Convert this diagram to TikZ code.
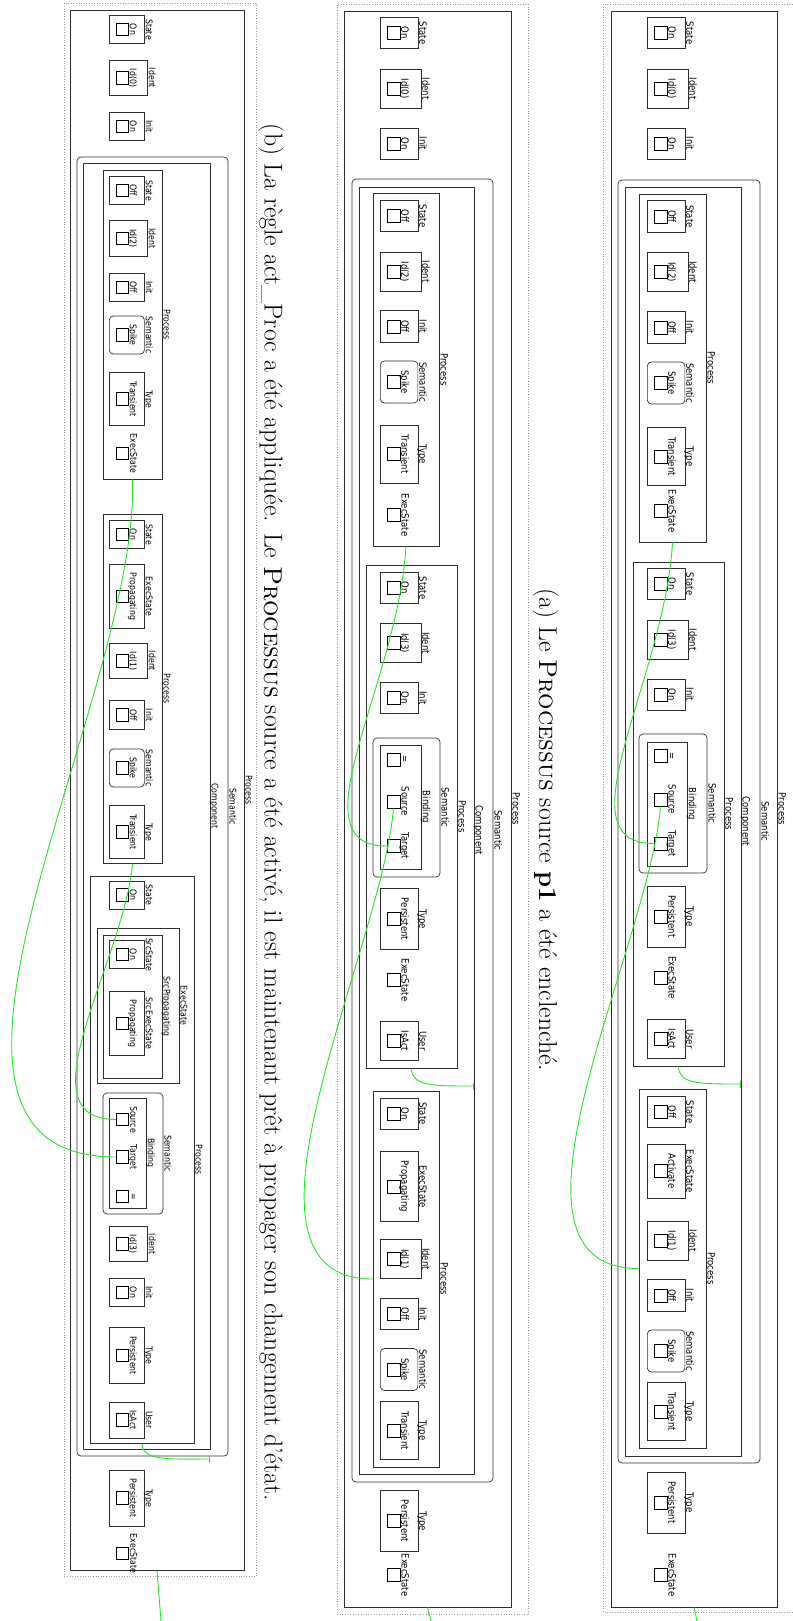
\documentclass[tikz,border=0pt]{standalone}
\usepackage{fontspec}
\usepackage{tikz}
\usetikzlibrary{arrows.meta}
\newfontfamily\lblfont[FakeStretch=0.85]{DejaVu Sans}
\definecolor{clrWire}{HTML}{22E622}
\definecolor{clrLine}{HTML}{2E2E2E}
\definecolor{clrDot}{HTML}{9A9A9A}

\begin{document}
\begin{tikzpicture}[
    x=1pt, y=1pt, rotate=-90, transform shape,
    lbl/.style={font=\lblfont\fontsize{10}{12}\selectfont, inner sep=1pt, text depth=0pt, anchor=south},
    lbls/.style={font=\lblfont\fontsize{9.2}{11}\selectfont, inner sep=1pt, text depth=0pt, anchor=south},
    frame/.style={rectangle, draw=clrLine, line width=0.7pt, inner sep=0pt},
    attr/.style={frame, anchor=south, font=\lblfont\fontsize{10}{12}\selectfont, inner xsep=9.5pt, minimum width=30pt, text height=16.5pt, text depth=21pt},
    attrs/.style={frame, anchor=south, font=\lblfont\fontsize{9.2}{11}\selectfont, inner xsep=8.5pt, minimum width=27pt, text height=14.5pt, text depth=20.5pt},
    tall/.style={text height=19.5pt},
    talls/.style={text height=17.5pt},
    sem/.style={rounded corners=4pt},
    port/.style={rectangle, draw=black, line width=0.7pt, minimum size=13pt, inner sep=0pt},
    ports/.style={port, minimum size=12.5pt},
    outline/.style={rectangle, draw=clrDot, dotted, line width=0.6pt, inner sep=0pt},
    wire/.style={clrWire, line width=0.9pt},
    stopwire/.style={wire, -{Bar[width=7pt, line width=0.9pt]}},
    caption/.style={font=\fontsize{25.8}{30}\selectfont, inner sep=0pt, anchor=base},
]
\useasboundingbox (0,0) rectangle (1621,792);

% === Panel (a) ===
\node[outline, minimum width=1608pt, minimum height=191pt] (adot) at (808,698.5) {};
\node[frame, minimum width=1596pt, minimum height=166pt, label={[lbl]above:Process}] (aout) at (809,694) {};
\node[attr, label={[lbl]above:State}] (ast0) at (33,647) {On};
\node[port] (ast0p) at (33,660.5) {};
\node[attr, tall, label={[lbl]above:Ident}] (aid0) at (88.5,647) {Id(0)};
\node[port] (aid0p) at (88.5,660.5) {};
\node[attr, label={[lbl]above:Init}] (ain0) at (143.5,647) {On};
\node[port] (ain0p) at (143.5,660.5) {};
\node[frame, sem, minimum width=1283pt, minimum height=142pt, label={[lbl]above:Semantic}] (asem) at (821.5,689) {};
\node[frame, minimum width=1269pt, minimum height=116pt, label={[lbl]above:Component}] (acomp) at (821.5,683) {};

% process Id(2)
\node[frame, minimum width=348pt, minimum height=67pt, label={[lbl]above:Process}] (ap1) at (368,672.5) {};
\node[attr, label={[lbl]above:State}] (ast2) at (216.5,647) {Off};
\node[port] (ast2p) at (216.5,660.5) {};
\node[attr, tall, label={[lbl]above:Ident}] (aid2) at (272,647) {Id(2)};
\node[port] (aid2p) at (272,660.5) {};
\node[attr, label={[lbl]above:Init}] (ain2) at (327.5,647) {Off};
\node[port] (ain2p) at (327.5,660.5) {};
\node[attr, sem, label={[lbl]above:Semantic}] (ase2) at (383,647) {Spike};
\node[port] (ase2p) at (383,660.5) {};
\node[attr, label={[lbl]above:Type}] (aty2) at (456.5,647) {Transient};
\node[port] (aty2p) at (456.5,660.5) {};
\node[port, label={[lbl]above:ExecState}] (aex2) at (511,660.5) {};

% process Id(3)
\node[frame, minimum width=504pt, minimum height=91pt, label={[lbl]above:Process}] (ap2) at (814,678.5) {};
\node[attr, label={[lbl]above:State}] (ast3) at (584,647) {On};
\node[port] (ast3p) at (584,660.5) {};
\node[attr, tall, label={[lbl]above:Ident}] (aid3) at (639.5,647) {Id(3)};
\node[port] (aid3p) at (639.5,660.5) {};
\node[attr, label={[lbl]above:Init}] (ain3) at (694.5,647) {On};
\node[port] (ain3p) at (694.5,660.5) {};
\node[frame, sem, minimum width=139pt, minimum height=68pt, label={[lbl]above:Semantic}] (ase3) at (803.5,673) {};
\node[frame, anchor=south, minimum width=124pt, minimum height=40pt, label={[lbl]above:Binding}] (abd3) at (804,647) {};
\node[port, label={[lbl]above:=}] (aeq3) at (756,660.5) {};
\node[port, label={[lbl]above:Source}] (asrc) at (799.5,660.5) {};
\node[port, label={[lbl]above:Target}] (atgt) at (843.5,660.5) {};
\node[attr, label={[lbl]above:Type}] (aty3) at (916.5,647) {Persistent};
\node[port] (aty3p) at (916.5,660.5) {};
\node[port, label={[lbl]above:ExecState}] (aex3) at (977.5,660.5) {};
\node[attr, label={[lbl]above:User}] (aus3) at (1039,647) {IsAct};
\node[port] (aus3p) at (1039,660.5) {};

% process Id(1)
\node[frame, minimum width=359pt, minimum height=67pt, label={[lbl]above:Process}] (ap3) at (1268.5,672.5) {};
\node[attr, label={[lbl]above:State}] (ast1) at (1112,647) {Off};
\node[port] (ast1p) at (1112,660.5) {};
\node[attr, label={[lbl]above:ExecState}] (aes1) at (1171,647) {Activate};
\node[port] (aes1p) at (1171,660.5) {};
\node[attr, tall, label={[lbl]above:Ident}] (aid1) at (1240.5,647) {Id(1)};
\node[port] (aid1p) at (1240.5,660.5) {};
\node[attr, label={[lbl]above:Init}] (ain1) at (1295.5,647) {Off};
\node[port] (ain1p) at (1295.5,660.5) {};
\node[attr, sem, label={[lbl]above:Semantic}] (ase1) at (1351,647) {Spike};
\node[port] (ase1p) at (1351,660.5) {};
\node[attr, label={[lbl]above:Type}] (aty1) at (1411.5,647) {Transient};
\node[port] (aty1p) at (1411.5,660.5) {};

\node[attr, label={[lbl]above:Type}] (atyb) at (1502.5,647) {Persistent};
\node[port] (atybp) at (1502.5,660.5) {};
\node[port, label={[lbl]above:ExecState}] (aexb) at (1575,660.5) {};

\coordinate (abar) at (1084,741);
\coordinate (aexit) at (1621,697);
\draw[wire] (ap1.east) .. controls +(138,-8) and +(0,-94) .. (atgt.south);
\draw[wire] (asrc.east) .. controls +(144,-12) and +(0,-159) .. (ap3.south);
\draw[stopwire] (ap2.east) .. controls +(18,0) and +(0,-40) .. (abar);
\draw[wire] (aout.east) -- (aexit);

\node[caption] (capa) at (830,539) {(a) Le \textsc{Processus} source \textbf{p1} a été enclenché.};

% === Panel (b) ===
\node[outline, minimum width=1610pt, minimum height=191pt] (bdot) at (809,432.5) {};
\node[frame, minimum width=1596pt, minimum height=167pt, label={[lbl]above:Process}] (bout) at (809,427.5) {};
\node[attr, label={[lbl]above:State}] (bst0) at (33,380) {On};
\node[port] (bst0p) at (33,393.5) {};
\node[attr, tall, label={[lbl]above:Ident}] (bid0) at (88.5,380) {Id(0)};
\node[port] (bid0p) at (88.5,393.5) {};
\node[attr, label={[lbl]above:Init}] (bin0) at (143.5,380) {On};
\node[port] (bin0p) at (143.5,393.5) {};
\node[frame, sem, minimum width=1303pt, minimum height=141pt, label={[lbl]above:Semantic}] (bsem) at (830.5,422.5) {};
\node[frame, minimum width=1287pt, minimum height=115pt, label={[lbl]above:Component}] (bcomp) at (830.5,416.5) {};

% process Id(2)
\node[frame, minimum width=353pt, minimum height=66pt, label={[lbl]above:Process}] (bp1) at (369.5,406) {};
\node[attr, label={[lbl]above:State}] (bst2) at (216,380) {Off};
\node[port] (bst2p) at (216,393.5) {};
\node[attr, tall, label={[lbl]above:Ident}] (bid2) at (271.5,380) {Id(2)};
\node[port] (bid2p) at (271.5,393.5) {};
\node[attr, label={[lbl]above:Init}] (bin2) at (326.5,380) {Off};
\node[port] (bin2p) at (326.5,393.5) {};
\node[attr, sem, label={[lbl]above:Semantic}] (bse2) at (382,380) {Spike};
\node[port] (bse2p) at (382,393.5) {};
\node[attr, label={[lbl]above:Type}] (bty2) at (454,380) {Transient};
\node[port] (bty2p) at (454,393.5) {};
\node[port, label={[lbl]above:ExecState}] (bex2) at (515,393.5) {};

% process Id(3)
\node[frame, minimum width=503pt, minimum height=91pt, label={[lbl]above:Process}] (bp2) at (816.5,411.5) {};
\node[attr, label={[lbl]above:State}] (bst3) at (588,380) {On};
\node[port] (bst3p) at (588,393.5) {};
\node[attr, tall, label={[lbl]above:Ident}] (bid3) at (643,380) {Id(3)};
\node[port] (bid3p) at (643,393.5) {};
\node[attr, label={[lbl]above:Init}] (bin3) at (698,380) {On};
\node[port] (bin3p) at (698,393.5) {};
\node[frame, sem, minimum width=139pt, minimum height=67pt, label={[lbl]above:Semantic}] (bse3) at (807.5,406.5) {};
\node[frame, anchor=south, minimum width=124pt, minimum height=41pt, label={[lbl]above:Binding}] (bbd3) at (807,380) {};
\node[port, label={[lbl]above:=}] (beq3) at (759.5,393.5) {};
\node[port, label={[lbl]above:Source}] (bsrc) at (801.5,393.5) {};
\node[port, label={[lbl]above:Target}] (btgt) at (846,393.5) {};
\node[attr, label={[lbl]above:Type}] (bty3) at (919,380) {Persistent};
\node[port] (bty3p) at (919,393.5) {};
\node[port, label={[lbl]above:ExecState}] (bex3) at (980,393.5) {};
\node[attr, label={[lbl]above:User}] (bus3) at (1041,380) {IsAct};
\node[port] (bus3p) at (1041,393.5) {};

% process Id(1)
\node[frame, minimum width=376pt, minimum height=66pt, label={[lbl]above:Process}] (bp3) at (1279,406) {};
\node[attr, label={[lbl]above:State}] (bst1) at (1113.5,380) {On};
\node[port] (bst1p) at (1113.5,393.5) {};
\node[attr, label={[lbl]above:ExecState}] (bes1) at (1186.5,380) {Propagating};
\node[port] (bes1p) at (1186.5,393.5) {};
\node[attr, tall, label={[lbl]above:Ident}] (bid1) at (1259,380) {Id(1)};
\node[port] (bid1p) at (1259,393.5) {};
\node[attr, label={[lbl]above:Init}] (bin1) at (1314,380) {Off};
\node[port] (bin1p) at (1314,393.5) {};
\node[attr, sem, label={[lbl]above:Semantic}] (bse1) at (1369.5,380) {Spike};
\node[port] (bse1p) at (1369.5,393.5) {};
\node[attr, label={[lbl]above:Type}] (bty1) at (1430.5,380) {Transient};
\node[port] (bty1p) at (1430.5,393.5) {};

\node[attr, label={[lbl]above:Type}] (btyb) at (1521,380) {Persistent};
\node[port] (btybp) at (1521,393.5) {};
\node[port, label={[lbl]above:ExecState}] (bexb) at (1575,393.5) {};

\coordinate (bbar) at (1086,474);
\coordinate (bexit) at (1621,431);
\draw[wire] (bp1.east) .. controls +(138,-8) and +(0,-94) .. (btgt.south);
\draw[wire] (bsrc.east) .. controls +(144,-12) and +(0,-160) .. (bp3.south);
\draw[stopwire] (bp2.east) .. controls +(18,0) and +(0,-40) .. (bbar);
\draw[wire] (bout.east) -- (bexit);

\node[caption] (capb) at (812.5,264.5) {\makebox[1377pt][s]{(b) La règle act\_Proc a été appliquée. Le \textsc{Processus} source a été activé, il est maintenant prêt à propager son changement d'état.}};

% === Panel (c) ===
\node[outline, minimum width=1573pt, minimum height=192pt] (cdot) at (789.5,160) {};
\node[frame, minimum width=1560pt, minimum height=174pt, label={[lbls]above:Process}] (cout) at (790,157) {};
\node[attrs, label={[lbls]above:State}] (cst0) at (29.5,109) {On};
\node[ports] (cst0p) at (29.5,122.5) {};
\node[attrs, talls, label={[lbls]above:Ident}] (cid0) at (78,109) {Id(0)};
\node[ports] (cid0p) at (78,122.5) {};
\node[attrs, label={[lbls]above:Init}] (cin0) at (126.5,109) {On};
\node[ports] (cin0p) at (126.5,122.5) {};
\node[frame, sem, minimum width=1299pt, minimum height=151pt, label={[lbls]above:Semantic}] (csem) at (806.5,152.5) {};
\node[frame, minimum width=1286pt, minimum height=127pt, label={[lbls]above:Component}] (ccomp) at (806,146.5) {};

% process Id(2)
\node[frame, minimum width=309pt, minimum height=59pt, label={[lbls]above:Process}] (cp1) at (324.5,132.5) {};
\node[attrs, label={[lbls]above:State}] (cst2) at (190.5,109) {Off};
\node[ports] (cst2p) at (190.5,122.5) {};
\node[attrs, talls, label={[lbls]above:Ident}] (cid2) at (238.5,109) {Id(2)};
\node[ports] (cid2p) at (238.5,122.5) {};
\node[attrs, label={[lbls]above:Init}] (cin2) at (287.5,109) {Off};
\node[ports] (cin2p) at (287.5,122.5) {};
\node[attrs, sem, label={[lbls]above:Semantic}] (cse2) at (335,109) {Spike};
\node[ports] (cse2p) at (335,122.5) {};
\node[attrs, label={[lbls]above:Type}] (cty2) at (399,109) {Transient};
\node[ports] (cty2p) at (399,122.5) {};
\node[ports, label={[lbls]above:ExecState}] (cex2) at (453.5,122.5) {};

% process Id(1)
\node[frame, minimum width=349pt, minimum height=59pt, label={[lbls]above:Process}] (cp2) at (688.5,132.5) {};
\node[attrs, label={[lbls]above:State}] (cst3) at (534.5,109) {On};
\node[ports] (cst3p) at (534.5,122.5) {};
\node[attrs, label={[lbls]above:ExecState}] (ces3) at (596.5,109) {Propagating};
\node[ports] (ces3p) at (596.5,122.5) {};
\node[attrs, talls, label={[lbls]above:Ident}] (cid3) at (661,109) {Id(1)};
\node[ports] (cid3p) at (661,122.5) {};
\node[attrs, label={[lbls]above:Init}] (cin3) at (715,109) {Off};
\node[ports] (cin3p) at (715,122.5) {};
\node[attrs, sem, label={[lbls]above:Semantic}] (cse3) at (768,109) {Spike};
\node[ports] (cse3p) at (768,122.5) {};
\node[attrs, label={[lbls]above:Type}] (cty3) at (832,109) {Transient};
\node[ports] (cty3p) at (832,122.5) {};

% process Id(3)
\node[frame, minimum width=567pt, minimum height=104pt, label={[lbls]above:Process}] (cp3) at (1159.5,142) {};
\node[attrs, label={[lbls]above:State}] (cst1) at (895,109) {On};
\node[ports] (cst1p) at (895,122.5) {};
\node[frame, minimum width=155pt, minimum height=82pt, label={[lbls]above:ExecState}] (cesc) at (1005.5,138) {};
\node[frame, minimum width=143pt, minimum height=59pt, label={[lbls]above:SrcPropagating}] (cspr) at (1006.5,132.5) {};
\node[attrs, label={[lbls]above:SrcState}] (csst) at (954.5,109) {On};
\node[ports] (csstp) at (954.5,122.5) {};
\node[attrs, label={[lbls]above:SrcExecState}] (csex) at (1023.5,109) {Propagating};
\node[ports] (csexp) at (1023.5,122.5) {};
\node[frame, sem, minimum width=121pt, minimum height=60pt, label={[lbls]above:Semantic}] (cse1) at (1153.5,133) {};
\node[frame, anchor=south, minimum width=110pt, minimum height=37pt, label={[lbls]above:Binding}] (cbd1) at (1153,109) {};
\node[ports, label={[lbls]above:Source}] (csrc) at (1119.5,122.5) {};
\node[ports, label={[lbls]above:Target}] (ctgt) at (1157,122.5) {};
\node[ports, label={[lbls]above:=}] (ceq1) at (1196.5,122.5) {};
\node[attrs, talls, label={[lbls]above:Ident}] (cid1) at (1244,109) {Id(3)};
\node[ports] (cid1p) at (1244,122.5) {};
\node[attrs, label={[lbls]above:Init}] (cin1) at (1292.5,109) {On};
\node[ports] (cin1p) at (1292.5,122.5) {};
\node[attrs, label={[lbls]above:Type}] (cty1) at (1355.5,109) {Persistent};
\node[ports] (cty1p) at (1355.5,122.5) {};
\node[attrs, label={[lbls]above:User}] (cus1) at (1420,109) {IsAct};
\node[ports] (cus1p) at (1420,122.5) {};

\node[attrs, label={[lbls]above:Type}] (ctyb) at (1498,109) {Persistent};
\node[ports] (ctybp) at (1498,122.5) {};
\node[ports, label={[lbls]above:ExecState}] (cexb) at (1553.5,122.5) {};

\coordinate (cbar) at (1459,210);
\coordinate (cexit) at (1621,161);
\draw[wire] (cp1.east) .. controls +(221,7) and +(0,-247) .. (ctgt.south);
\draw[wire] (cp2.east) .. controls +(97,-8) and +(0,-96) .. (csrc.south);
\draw[stopwire] (cp3.east) .. controls +(18,0) and +(0,-40) .. (cbar);
\draw[wire] (cout.east) -- (cexit);

\end{tikzpicture}
\end{document}
